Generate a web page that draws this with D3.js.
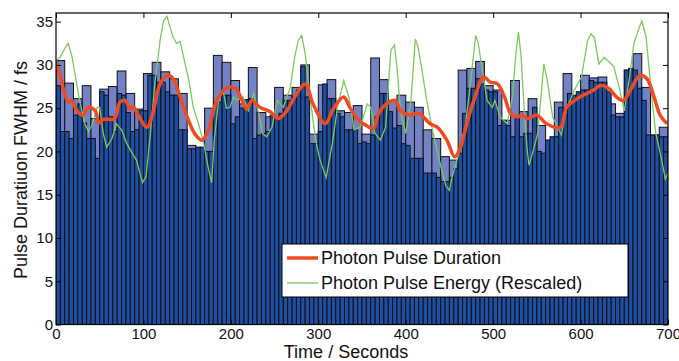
<!DOCTYPE html>
<html>
<head>
<meta charset="utf-8">
<script src="https://cdn.jsdelivr.net/npm/d3@7"></script>
<style>
  body { margin: 0; background: #fff; }
  svg { display: block; font-family: "Liberation Sans", Arial, sans-serif; }
</style>
</head>
<body>
<div id="container"></div>
<script>
var WIDTH = 679,
	HEIGHT = 361,
	LEFT = 56,
	RIGHT = 668,
	TOP = 13,
	BOTTOM = 324.5;

// light bars, 10 s bins starting at t = 0
var lightBins = [30.5, 27.9, 26.1, 27.6, 23.8, 27.2, 27.5, 29.3, 26.7, 24.9,
	29.0, 30.3, 29.2, 28.4, 26.7, 20.7, 20.0, 25.0, 31.1, 30.3,
	28.2, 25.5, 29.7, 24.5, 24.0, 27.4, 26.5, 27.4, 30.0, 22.0,
	27.7, 28.3, 24.7, 24.5, 25.3, 22.0, 30.8, 28.3, 25.9, 26.5,
	25.7, 25.1, 22.5, 21.5, 19.4, 19.0, 29.4, 29.6, 30.4, 27.6,
	27.1, 23.6, 28.2, 24.6, 26.1, 23.0, 21.3, 25.7, 29.0, 26.3,
	28.8, 28.5, 28.6, 25.5, 24.4, 29.4, 31.3, 27.4, 21.9, 22.8];

// dark bars, 5 s bins starting at t = 0
var darkBins = [27.6, 22.3, 22.3, 21.5, 24.2, 25.5, 23.3, 21.5, 21.5, 19.2,
	26.9, 26.5, 24.0, 22.3, 26.7, 26.5, 24.5, 22.3, 22.5, 24.7,
	24.7, 28.8, 28.8, 28.0, 28.0, 26.9, 26.5, 26.5, 22.5, 22.5,
	20.3, 20.3, 20.5, 20.5, 20.0, 20.0, 25.7, 25.7, 26.5, 26.5,
	23.2, 24.0, 25.0, 26.0, 26.1, 21.5, 21.9, 22.1, 22.3, 24.2,
	23.8, 24.4, 25.9, 25.9, 26.3, 27.1, 29.8, 26.3, 20.9, 20.9,
	22.3, 27.8, 26.1, 26.1, 24.4, 24.0, 22.5, 22.5, 22.5, 20.9,
	21.1, 20.9, 21.9, 24.0, 26.7, 26.7, 24.6, 22.7, 23.0, 20.9,
	20.7, 19.2, 19.2, 19.2, 17.5, 17.5, 17.5, 17.0, 16.5, 16.5,
	17.0, 18.0,
	19.8, 24.4, 27.3, 27.3, 28.4, 27.8, 27.1, 26.9, 26.9, 23.0,
	23.6, 23.0, 21.7, 24.0, 21.7, 22.1, 22.1, 25.1, 20.0, 19.8,
	21.3, 21.7, 21.7, 25.1, 24.2, 26.7, 26.5, 26.9, 27.1, 27.1,
	28.2, 28.0, 28.0, 28.0, 26.9, 24.2, 24.0, 24.0, 29.4, 29.6,
	29.4, 27.3, 25.9, 21.9, 21.9, 21.9, 21.7, 21.7];

// photon pulse duration (smoothed)
var durTime = [1, 8, 14, 18, 24, 31, 37, 45, 49, 54, 67, 73, 79, 85, 88, 94, 104, 111, 119, 128,
	134, 142, 150, 159, 167, 174, 184, 195, 203, 207, 212, 218, 224, 233, 245, 254, 264, 273, 285, 294,
	308, 317, 329, 336, 346, 355, 363, 369, 378, 388, 394, 405, 415, 428, 436, 447, 456, 462, 470, 478,
	489, 497, 505, 513, 520, 528, 533, 539, 550, 561, 577, 584, 596, 607, 615, 622, 632, 641, 649, 657,
	668, 676, 684, 691, 699];
var durVal = [30.3, 27.4, 25.7, 25.9, 24.7, 24.2, 25.1, 24.7, 23.3, 23.7, 23.8, 25.7, 25.9, 24.9, 25.2, 24.2, 22.8, 24.5, 27.8, 28.8,
	28.4, 26.3, 24.0, 22.0, 21.3, 22.4, 25.9, 27.3, 27.4, 27.1, 26.1, 24.9, 25.9, 25.1, 24.6, 23.8, 24.7, 26.3, 27.8, 25.5,
	23.2, 24.9, 26.3, 25.1, 23.6, 23.0, 22.6, 24.4, 25.5, 25.9, 24.7, 24.2, 24.4, 23.2, 22.8, 21.3, 19.4, 20.3, 23.3, 25.9,
	28.6, 28.0, 27.8, 26.3, 24.4, 24.0, 24.2, 23.8, 24.2, 23.2, 22.8, 25.1, 26.1, 26.7, 27.1, 27.6, 27.3, 26.3, 25.9, 27.1,
	28.8, 28.4, 26.3, 24.2, 23.2];

// photon pulse energy (rescaled)
var enTime = [0, 5, 10, 14, 18, 22, 27, 33, 37, 41, 47, 50, 54, 58, 64, 69, 75, 81, 87, 92,
	96, 99, 103, 108, 113, 119, 123, 127, 130, 134, 138, 142, 146, 152, 157, 163, 169, 174, 178, 181,
	186, 191, 195, 199, 203, 207, 214, 220, 226, 232, 236, 241, 247, 253, 260, 268, 273, 277, 281, 285,
	291, 297, 302, 309, 316, 322, 329, 335, 341, 348, 356, 360, 365, 371, 377, 383, 387, 390, 394, 400,
	406, 411, 414, 418, 424, 430, 435, 441, 446, 450, 453, 461, 468, 474, 480, 483, 487, 493, 499, 502,
	508, 516, 522, 526, 529, 532, 536, 539, 541, 545, 551, 556, 558, 562, 568, 574, 578, 583, 593, 601,
	608, 612, 616, 621, 627, 633, 638, 644, 650, 656, 661, 667, 670, 675, 681, 686, 692, 697, 700];
var enVal = [30.5, 30.9, 31.9, 32.5, 31.1, 28.8, 25.9, 23.2, 22.3, 23.0, 25.1, 25.1, 22.1, 20.5, 21.5, 23.2, 22.5, 20.9, 19.8, 19.0,
	17.5, 16.4, 17.1, 22.1, 27.8, 32.8, 35.1, 35.6, 34.5, 33.2, 32.5, 32.7, 30.9, 28.2, 25.1, 23.2, 20.9, 18.2, 16.4, 21.3,
	25.9, 27.1, 25.0, 25.1, 26.3, 25.9, 26.3, 24.7, 26.7, 24.4, 22.1, 21.7, 22.8, 25.9, 25.1, 27.4, 30.9, 32.8, 33.4, 31.3,
	25.9, 21.3, 19.0, 17.0, 20.9, 25.1, 28.2, 26.3, 22.5, 22.8, 25.5, 25.1, 22.1, 21.3, 22.8, 31.7, 32.3, 29.8, 24.7, 22.1,
	25.9, 33.0, 32.1, 29.8, 25.9, 22.8, 20.5, 17.9, 16.0, 15.5, 17.0, 19.8, 22.8, 27.8, 33.4, 32.5, 29.8, 25.9, 25.1, 25.9,
	24.0, 23.2, 26.3, 31.3, 33.8, 30.9, 24.0, 20.1, 18.4, 19.8, 22.1, 27.8, 30.1, 28.2, 24.0, 22.8, 21.9, 24.7, 27.1, 28.6,
	32.8, 33.6, 33.1, 30.1, 30.9, 30.3, 29.8, 27.5, 24.7, 28.6, 32.5, 34.3, 35.1, 33.2, 26.7, 22.1, 19.4, 16.8, 17.5];

var xTicks = [0, 100, 200, 300, 400, 500, 600, 700];
var yTicks = [0, 5, 10, 15, 20, 25, 30, 35];
var legendLabels = ['Photon Pulse Duration', 'Photon Pulse Energy (Rescaled)'];

var xScale = d3.scaleLinear().domain([0, 700]).range([LEFT, RIGHT]);
var yScale = d3.scaleLinear().domain([0, 36]).range([BOTTOM, TOP]);

var translate = function (x, y) {
	return 'translate(' + x + ',' + y + ')';
};

var svg = d3.select('#container')
	.append('svg')
	.attr('width', WIDTH)
	.attr('height', HEIGHT);

svg.append('defs').append('clipPath').attr('id', 'plotclip')
	.append('rect')
	.attr('x', LEFT).attr('y', TOP)
	.attr('width', RIGHT - LEFT).attr('height', BOTTOM - TOP);

var plot = svg.append('g').attr('clip-path', 'url(#plotclip)');

// light bars behind
plot.selectAll('rect.light').data(lightBins).enter()
	.append('rect')
	.classed('light', true)
	.attr('x', function(d, i){ return xScale(i * 10); })
	.attr('width', function(d, i){ return xScale((i + 1) * 10) - xScale(i * 10); })
	.attr('y', function(d){ return yScale(d); })
	.attr('height', function(d){ return yScale(0) - yScale(d); })
	.attr('fill', '#7282c4')
	.attr('stroke', '#111')
	.attr('stroke-width', 1);

// dark bars in front
plot.selectAll('rect.dark').data(darkBins).enter()
	.append('rect')
	.classed('dark', true)
	.attr('x', function(d, i){ return xScale(i * 5); })
	.attr('width', function(d, i){ return xScale((i + 1) * 5) - xScale(i * 5); })
	.attr('y', function(d){ return yScale(d); })
	.attr('height', function(d){ return yScale(0) - yScale(d); })
	.attr('fill', '#1f4f9e')
	.attr('stroke', '#0b0f1e')
	.attr('stroke-width', 1);

var durData = durTime.map(function(t, i){ return {x: t, y: durVal[i]}; });
var enData = enTime.map(function(t, i){ return {x: t, y: enVal[i]}; });

var lineFunction = function(curveObject) {
	return d3.line()
		.x(function(d){ return xScale(d.x); })
		.y(function(d){ return yScale(d.y); })
		.curve(curveObject);
};

plot.append('path')
	.attr('d', lineFunction(d3.curveLinear)(enData))
	.attr('fill', 'none')
	.attr('stroke', '#7cc95c')
	.attr('stroke-width', 1.3);

plot.append('path')
	.attr('d', lineFunction(d3.curveCatmullRom)(durData))
	.attr('fill', 'none')
	.attr('stroke', '#f04a22')
	.attr('stroke-width', 3.5)
	.attr('stroke-linejoin', 'round');

// axes, MATLAB style: inward ticks on all four sides
function styleAxis(g) {
	g.select('.domain').remove();
	g.selectAll('.tick line').attr('stroke', '#000');
	g.selectAll('.tick text').attr('font-size', 15).attr('fill', '#111');
}

svg.append('g')
	.attr('transform', translate(0, BOTTOM))
	.call(d3.axisBottom(xScale).tickValues(xTicks).tickSize(-5).tickPadding(4))
	.call(styleAxis);
svg.append('g')
	.attr('transform', translate(0, TOP))
	.call(d3.axisTop(xScale).tickValues(xTicks).tickSize(-5).tickFormat(''))
	.call(styleAxis);
svg.append('g')
	.attr('transform', translate(LEFT, 0))
	.call(d3.axisLeft(yScale).tickValues(yTicks).tickSize(-5).tickPadding(3))
	.call(styleAxis);
svg.append('g')
	.attr('transform', translate(RIGHT, 0))
	.call(d3.axisRight(yScale).tickValues(yTicks).tickSize(-5).tickFormat(''))
	.call(styleAxis);

svg.append('rect')
	.attr('x', LEFT).attr('y', TOP)
	.attr('width', RIGHT - LEFT).attr('height', BOTTOM - TOP)
	.attr('fill', 'none')
	.attr('stroke', '#000')
	.attr('stroke-width', 1.2);

// axis titles
svg.append('text')
	.attr('x', 346)
	.attr('y', 358)
	.attr('text-anchor', 'middle')
	.attr('font-size', 18)
	.attr('fill', '#111')
	.text('Time / Seconds');

svg.append('text')
	.attr('transform', translate(27, 170) + ' rotate(-90)')
	.attr('text-anchor', 'middle')
	.attr('font-size', 18)
	.attr('fill', '#111')
	.text('Pulse Duratiuon FWHM / fs');

// legend
var legend = svg.append('g').attr('transform', translate(282, 244));
legend.append('rect')
	.attr('width', 346).attr('height', 53)
	.attr('fill', '#fff')
	.attr('stroke', '#000')
	.attr('stroke-width', 1);
var legendColors = ['#f04a22', '#7cc95c'];
var legendWidths = [3.5, 1.3];
legendLabels.forEach(function(label, i) {
	var ly = 14 + i * 25;
	legend.append('line')
		.attr('x1', 5).attr('x2', 36)
		.attr('y1', ly).attr('y2', ly)
		.attr('stroke', legendColors[i])
		.attr('stroke-width', legendWidths[i]);
	legend.append('text')
		.attr('x', 39).attr('y', ly)
		.attr('dy', '0.35em')
		.attr('font-size', 18)
		.attr('fill', '#111')
		.text(label);
});
</script>
</body>
</html>
